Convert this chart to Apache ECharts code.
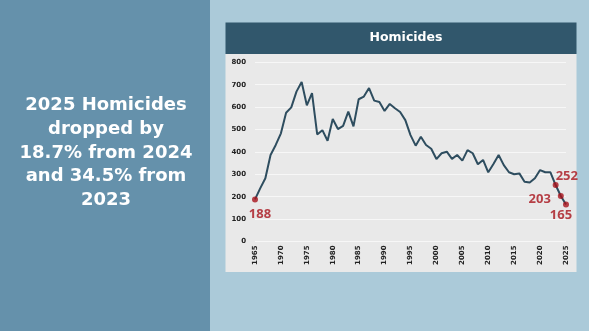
<!DOCTYPE html>
<html>
<head>
<meta charset="utf-8">
<script src="https://cdn.jsdelivr.net/npm/echarts@6/dist/echarts.min.js"></script>
<style>
html,body{margin:0;padding:0;background:#abcad9;}
#c{width:589px;height:331px;}
</style>
</head>
<body>
<div id="c"></div>
<script>
const years = ["1965","1966","1967","1968","1969","1970","1971","1972","1973","1974","1975","1976","1977","1978","1979","1980","1981","1982","1983","1984","1985","1986","1987","1988","1989","1990","1991","1992","1993","1994","1995","1996","1997","1998","1999","2000","2001","2002","2003","2004","2005","2006","2007","2008","2009","2010","2011","2012","2013","2014","2015","2016","2017","2018","2019","2020","2021","2022","2023","2024","2025"];
const homicides = [188,237,282,386,431,483,575,599,669,712,608,662,478,497,450,547,502,516,580,514,635,647,685,629,623,583,614,595,578,542,475,428,468,431,414,368,394,401,369,386,361,408,394,345,364,309,346,386,341,309,300,304,267,263,282,319,309,309,252,203,165];
const highlightYears = ["1965","2023","2024","2025"];
const chartTitle = "Homicides";
const sideText = "2025 Homicides\ndropped by\n18.7% from 2024\nand 34.5% from\n2023";

const labelPos = {"1965":"bottom","2023":"right","2024":"left","2025":"bottom"};
const labelOffset = {"1965":[5,0],"2023":[-8,-9],"2024":[-2,3],"2025":[-5,-4]};
const highlightData = highlightYears.map(y => {
  const v = homicides[years.indexOf(y)];
  return {
    value: [y, v],
    label: {show: true, position: labelPos[y], offset: labelOffset[y], formatter: String(v)}
  };
});

const chart = echarts.init(document.getElementById('c'), null, {renderer: 'canvas'});
chart.setOption({
  animation: false,
  backgroundColor: '#abcad9',
  graphic: [
    {type:'rect', z:-10, shape:{x:0,y:0,width:210,height:331}, style:{fill:'#6591ab'}},
    {type:'rect', z:-10, shape:{x:225.5,y:22.5,width:351,height:31.5}, style:{fill:'#31576c'}},
    {type:'rect', z:-10, shape:{x:225.5,y:54,width:351,height:218}, style:{fill:'#e9e9e9'}},
    {type:'text', z:5, style:{
      text: sideText, x:106, y:153, textAlign:'center', textVerticalAlign:'middle',
      fill:'#ffffff', font:'bold 18px "DejaVu Sans"', lineHeight:23.6
    }}
  ],
  title: {
    text: chartTitle, left: 401, top: 26, textAlign: 'center',
    textStyle: {color:'#ffffff', fontFamily:'"DejaVu Sans"', fontWeight:'bold', fontSize:12.5}
  },
  grid: {left:255, right:23, top:62.3, bottom:89.5, containLabel:false},
  xAxis: {
    type:'category', data: years, boundaryGap:false,
    axisLine:{show:false}, axisTick:{show:false},
    axisLabel:{
      rotate:90, margin:4, color:'#222', fontSize:7, fontWeight:'bold', fontFamily:'"DejaVu Sans"',
      interval: 0,
      formatter: (v) => (Number(v) % 5 === 0 ? v : '')
    },
    splitLine:{show:false}
  },
  yAxis: {
    type:'value', min:0, max:800, interval:100,
    axisLine:{show:false}, axisTick:{show:false},
    axisLabel:{color:'#222', fontSize:7, fontWeight:'bold', fontFamily:'"DejaVu Sans"', margin:9},
    splitLine:{lineStyle:{color:'#f7f7f7', width:1.2}}
  },
  series: [
    {
      type:'line', data: homicides, symbol:'none',
      lineStyle:{color:'#2e4d5f', width:2}, z:2
    },
    {
      type:'scatter', data: highlightData, symbolSize:6, z:3,
      itemStyle:{color:'#a8131b'},
      label:{color:'#a8131b', fontSize:13, fontWeight:'bold', fontFamily:'"Open Sans"'}
    }
  ]
});
</script>
</body>
</html>
